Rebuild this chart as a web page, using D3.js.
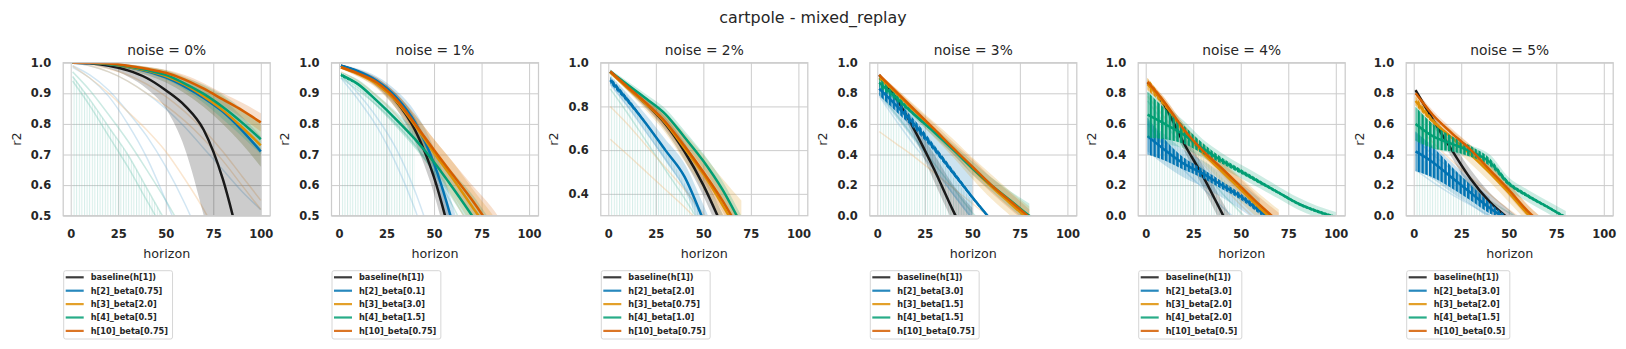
<!DOCTYPE html>
<html>
<head>
<meta charset="utf-8">
<script src="https://cdn.jsdelivr.net/npm/d3@7"></script>
<style>
  body { margin: 0; background: #fff; }
  svg { display: block; font-family: "DejaVu Sans", sans-serif; }
</style>
</head>
<body>
<svg id="chart" width="1626" height="349"></svg>
<script>
var horizons = [1, 10, 20, 30, 40, 50, 60, 70, 80, 90, 100];
var noiseLabels = ['0%', '1%', '2%', '3%', '4%', '5%'];
var yLimits = [[0.5, 1], [0.5, 1], [0.3, 1], [0, 1], [0, 1], [0, 1]];
var yTickValues = [
  [0.5, 0.6, 0.7, 0.8, 0.9, 1.0],
  [0.5, 0.6, 0.7, 0.8, 0.9, 1.0],
  [0.4, 0.6, 0.8, 1.0],
  [0, 0.2, 0.4, 0.6, 0.8, 1.0],
  [0, 0.2, 0.4, 0.6, 0.8, 1.0],
  [0, 0.2, 0.4, 0.6, 0.8, 1.0]
];
var xTickValues = [0, 25, 50, 75, 100];

var legendLabels = [
  ['baseline(h[1])', 'h[2]_beta[0.75]', 'h[3]_beta[2.0]', 'h[4]_beta[0.5]', 'h[10]_beta[0.75]'],
  ['baseline(h[1])', 'h[2]_beta[0.1]', 'h[3]_beta[3.0]', 'h[4]_beta[1.5]', 'h[10]_beta[0.75]'],
  ['baseline(h[1])', 'h[2]_beta[2.0]', 'h[3]_beta[0.75]', 'h[4]_beta[1.0]', 'h[10]_beta[0.75]'],
  ['baseline(h[1])', 'h[2]_beta[3.0]', 'h[3]_beta[1.5]', 'h[4]_beta[1.5]', 'h[10]_beta[0.75]'],
  ['baseline(h[1])', 'h[2]_beta[3.0]', 'h[3]_beta[2.0]', 'h[4]_beta[2.0]', 'h[10]_beta[0.5]'],
  ['baseline(h[1])', 'h[2]_beta[3.0]', 'h[3]_beta[2.0]', 'h[4]_beta[1.5]', 'h[10]_beta[0.5]']
];

// mean r2 and confidence band, one list per noise level
var baselineMean = [
  [1.0, 0.998, 0.99, 0.975, 0.95, 0.91, 0.86, 0.78, 0.62, 0.38, 0.10],
  [0.99, 0.97, 0.935, 0.875, 0.78, 0.625, 0.40, 0.15],
  [0.96, 0.89, 0.81, 0.72, 0.595, 0.44, 0.25, 0.05],
  [0.92, 0.765, 0.55, 0.30, 0.03, -0.22],
  [0.87, 0.72, 0.475, 0.26, 0.02, -0.22],
  [0.82, 0.63, 0.43, 0.24, 0.09, -0.02, -0.12]
];
var baselineLo = [
  [1.0, 0.995, 0.98, 0.955, 0.915, 0.85, 0.72, 0.50, 0.25, 0.0, -0.3],
  [0.985, 0.962, 0.92, 0.85, 0.74, 0.57, 0.33, 0.05],
  [0.955, 0.875, 0.79, 0.69, 0.555, 0.39, 0.19, -0.02],
  [0.91, 0.74, 0.50, 0.22, -0.05, -0.3],
  [0.86, 0.69, 0.43, 0.19, -0.06, -0.3],
  [0.81, 0.60, 0.38, 0.18, 0.03, -0.08, -0.18]
];
var baselineHi = [
  [1.0, 1.0, 0.997, 0.99, 0.978, 0.958, 0.93, 0.89, 0.84, 0.78, 0.72],
  [0.995, 0.978, 0.95, 0.90, 0.82, 0.68, 0.47, 0.25],
  [0.965, 0.905, 0.83, 0.75, 0.635, 0.49, 0.31, 0.12],
  [0.93, 0.78, 0.60, 0.40, 0.20, 0.05, -0.1],
  [0.88, 0.75, 0.53, 0.33, 0.10, -0.12],
  [0.83, 0.66, 0.48, 0.30, 0.15, 0.04, -0.06]
];

var h2Mean = [
  [1.0, 0.999, 0.995, 0.986, 0.972, 0.952, 0.922, 0.885, 0.84, 0.78, 0.71],
  [0.99, 0.972, 0.94, 0.888, 0.805, 0.67, 0.47, 0.22],
  [0.92, 0.83, 0.72, 0.60, 0.48, 0.28, 0.06],
  [0.83, 0.72, 0.59, 0.44, 0.28, 0.12, -0.03],
  [0.52, 0.43, 0.34, 0.275, 0.20, 0.125, 0.03, -0.06],
  [0.42, 0.35, 0.25, 0.15, 0.05, -0.03]
];
var h2Lo = [
  [1.0, 0.998, 0.991, 0.978, 0.96, 0.935, 0.9, 0.855, 0.8, 0.735, 0.66],
  [0.985, 0.963, 0.925, 0.865, 0.77, 0.62, 0.41, 0.15],
  [0.90, 0.80, 0.68, 0.55, 0.42, 0.21, -0.02],
  [0.78, 0.64, 0.48, 0.31, 0.13, -0.03],
  [0.42, 0.33, 0.25, 0.19, 0.12, 0.04, -0.05],
  [0.30, 0.24, 0.15, 0.07, -0.02]
];
var h2Hi = [
  [1.0, 1.0, 0.998, 0.993, 0.983, 0.968, 0.944, 0.915, 0.88, 0.825, 0.76],
  [0.995, 0.98, 0.955, 0.91, 0.84, 0.72, 0.53, 0.29],
  [0.94, 0.86, 0.76, 0.65, 0.54, 0.35, 0.14],
  [0.88, 0.80, 0.70, 0.57, 0.43, 0.27, 0.12, -0.02],
  [0.62, 0.53, 0.43, 0.36, 0.28, 0.21, 0.11, 0.02, -0.05],
  [0.54, 0.46, 0.35, 0.23, 0.12, 0.04, -0.03]
];
// half-height of the step-to-step zigzag
var h2Jitter = [
  null,
  null,
  [0.015, 0.012, 0.006, 0.004, 0.003, 0.003, 0.003],
  [0.045, 0.04, 0.03, 0.022, 0.018, 0.012, 0.01],
  [0.12, 0.07, 0.04, 0.03, 0.025, 0.02, 0.02, 0.02],
  [0.13, 0.1, 0.07, 0.05, 0.035, 0.02]
];

var h3Mean = [
  [1.0, 1.0, 0.996, 0.987, 0.974, 0.956, 0.928, 0.89, 0.845, 0.79, 0.73],
  [0.985, 0.963, 0.93, 0.875, 0.795, 0.705, 0.62, 0.53, 0.44, 0.34, 0.23],
  [0.955, 0.885, 0.81, 0.725, 0.61, 0.49, 0.35, 0.20],
  [0.90, 0.80, 0.68, 0.56, 0.44, 0.31, 0.19, 0.08, -0.03],
  [0.86, 0.73, 0.55, 0.41, 0.29, 0.17, 0.05, -0.06],
  [0.75, 0.62, 0.51, 0.40, 0.28, 0.15, 0.01, -0.1]
];
var h3Lo = [
  [1.0, 0.999, 0.99, 0.978, 0.96, 0.936, 0.9, 0.855, 0.80, 0.735, 0.66],
  [0.98, 0.955, 0.915, 0.85, 0.76, 0.66, 0.565, 0.47, 0.37, 0.26, 0.14],
  [0.95, 0.87, 0.78, 0.68, 0.55, 0.42, 0.26, 0.10],
  [0.88, 0.77, 0.64, 0.51, 0.38, 0.24, 0.11, 0.0, -0.1],
  [0.83, 0.69, 0.50, 0.35, 0.22, 0.09, -0.03, -0.15],
  [0.72, 0.58, 0.46, 0.34, 0.22, 0.09, -0.04, -0.15]
];
var h3Hi = [
  [1.0, 1.0, 0.999, 0.995, 0.987, 0.975, 0.955, 0.925, 0.89, 0.845, 0.80],
  [0.99, 0.972, 0.945, 0.90, 0.83, 0.75, 0.675, 0.59, 0.51, 0.42, 0.32],
  [0.96, 0.90, 0.84, 0.77, 0.68, 0.58, 0.47, 0.37, 0.25, 0.1],
  [0.92, 0.83, 0.72, 0.61, 0.50, 0.38, 0.27, 0.16, 0.06, -0.02, -0.1],
  [0.89, 0.77, 0.60, 0.47, 0.36, 0.25, 0.14, 0.04, -0.05],
  [0.78, 0.66, 0.56, 0.46, 0.34, 0.21, 0.07, -0.04]
];
var h3Jitter = [null, null, null, null, [0.04, 0.02, 0.01], [0.03, 0.015, 0.008]];

var h4Mean = [
  [1.0, 1.0, 0.996, 0.988, 0.976, 0.96, 0.932, 0.898, 0.855, 0.805, 0.75],
  [0.96, 0.93, 0.875, 0.815, 0.75, 0.675, 0.59, 0.50, 0.40, 0.29, 0.17],
  [0.96, 0.90, 0.835, 0.765, 0.66, 0.55, 0.42, 0.26, 0.10],
  [0.87, 0.77, 0.655, 0.545, 0.43, 0.31, 0.20, 0.10, 0.0, -0.08],
  [0.66, 0.60, 0.53, 0.44, 0.36, 0.29, 0.22, 0.15, 0.08, 0.03, -0.01],
  [0.60, 0.52, 0.47, 0.42, 0.35, 0.21, 0.13, 0.06, -0.01, -0.06]
];
var h4Lo = [
  [1.0, 1.0, 0.993, 0.982, 0.966, 0.945, 0.912, 0.868, 0.815, 0.76, 0.70],
  [0.95, 0.915, 0.855, 0.79, 0.72, 0.64, 0.55, 0.455, 0.35, 0.24, 0.12],
  [0.95, 0.885, 0.815, 0.74, 0.63, 0.515, 0.38, 0.22, 0.06],
  [0.85, 0.75, 0.63, 0.515, 0.40, 0.27, 0.16, 0.05, -0.05],
  [0.50, 0.47, 0.44, 0.38, 0.31, 0.245, 0.18, 0.11, 0.04, -0.01, -0.05],
  [0.50, 0.44, 0.41, 0.38, 0.31, 0.17, 0.09, 0.02, -0.05]
];
var h4Hi = [
  [1.0, 1.0, 0.999, 0.994, 0.986, 0.975, 0.952, 0.928, 0.895, 0.85, 0.80],
  [0.97, 0.945, 0.895, 0.84, 0.78, 0.715, 0.64, 0.57, 0.48, 0.38, 0.27],
  [0.97, 0.915, 0.855, 0.79, 0.69, 0.585, 0.46, 0.30, 0.14],
  [0.89, 0.79, 0.68, 0.575, 0.465, 0.355, 0.25, 0.16, 0.08, 0.03, -0.02],
  [0.82, 0.73, 0.62, 0.50, 0.41, 0.335, 0.265, 0.19, 0.12, 0.065, 0.025],
  [0.72, 0.60, 0.52, 0.46, 0.40, 0.25, 0.17, 0.10, 0.03, -0.02]
];
var h4Jitter = [
  null,
  [0.006, 0.003],
  null,
  [0.03, 0.02, 0.01, 0.008, 0.005],
  [0.15, 0.1, 0.06, 0.035, 0.02, 0.015, 0.012, 0.01, 0.01, 0.01, 0.01],
  [0.11, 0.08, 0.05, 0.035, 0.025, 0.015, 0.012, 0.01, 0.01]
];

var h10Mean = [
  [1.0, 1.0, 0.997, 0.99, 0.98, 0.967, 0.945, 0.915, 0.88, 0.845, 0.805],
  [0.985, 0.965, 0.935, 0.88, 0.80, 0.715, 0.633, 0.551, 0.46, 0.36, 0.26],
  [0.96, 0.89, 0.815, 0.73, 0.62, 0.50, 0.37, 0.22],
  [0.92, 0.81, 0.687, 0.565, 0.44, 0.32, 0.20, 0.095, -0.01],
  [0.875, 0.74, 0.565, 0.425, 0.31, 0.19, 0.07, -0.04],
  [0.80, 0.66, 0.54, 0.43, 0.30, 0.17, 0.03, -0.08]
];
var h10Lo = [
  [1.0, 1.0, 0.995, 0.986, 0.973, 0.957, 0.93, 0.897, 0.86, 0.82, 0.775],
  [0.98, 0.955, 0.92, 0.86, 0.77, 0.68, 0.59, 0.50, 0.40, 0.29, 0.18],
  [0.955, 0.875, 0.795, 0.70, 0.585, 0.46, 0.32, 0.16],
  [0.91, 0.79, 0.66, 0.53, 0.40, 0.27, 0.15, 0.04, -0.06],
  [0.86, 0.71, 0.53, 0.39, 0.27, 0.14, 0.02, -0.1],
  [0.78, 0.63, 0.51, 0.40, 0.27, 0.13, -0.01, -0.12]
];
var h10Hi = [
  [1.0, 1.0, 0.999, 0.994, 0.987, 0.977, 0.96, 0.933, 0.90, 0.87, 0.835],
  [0.99, 0.975, 0.95, 0.90, 0.83, 0.75, 0.675, 0.60, 0.53, 0.44, 0.35],
  [0.965, 0.905, 0.835, 0.76, 0.655, 0.54, 0.42, 0.28, 0.12],
  [0.93, 0.83, 0.71, 0.60, 0.48, 0.37, 0.25, 0.15, 0.04, -0.05],
  [0.89, 0.77, 0.60, 0.46, 0.35, 0.24, 0.12, 0.02, -0.08],
  [0.82, 0.69, 0.57, 0.46, 0.33, 0.21, 0.07, -0.04]
];

// top of the pale comb of other beta runs that drop to the floor every other step
var combTop = [
  [0.96, 0.88, 0.79, 0.70, 0.59, 0.48],
  [0.95, 0.92, 0.87, 0.82, 0.77],
  [0.95, 0.85, 0.72, 0.60, 0.45, 0.3],
  [0.85, 0.70, 0.55, 0.42, 0.25, 0.1],
  [0.80, 0.65, 0.50, 0.38, 0.25, 0.12],
  [0.40, 0.32, 0.24, 0.15, 0.06]
];

// other beta runs, drawn pale
var faintTeal = [
  [[0.955, 0.88, 0.79, 0.70, 0.59, 0.48, 0.36], [0.97, 0.91, 0.83, 0.745, 0.65, 0.55, 0.44, 0.32], [0.94, 0.86, 0.76, 0.66, 0.55, 0.44]],
  [[0.95, 0.91, 0.86, 0.80, 0.73, 0.64, 0.53, 0.4]],
  [[0.88, 0.77, 0.64, 0.51, 0.38, 0.24]],
  [[0.80, 0.66, 0.50, 0.34, 0.18, 0.02, -0.1]],
  [[0.75, 0.6, 0.45, 0.3, 0.15, 0.02, -0.1]],
  [[0.5, 0.4, 0.3, 0.2, 0.1, 0.02, -0.05]]
];
var faintBlue = [
  [[0.99, 0.96, 0.91, 0.84, 0.76, 0.66, 0.54, 0.40], [0.985, 0.95, 0.89, 0.80, 0.69, 0.55, 0.40], [1.0, 0.99, 0.97, 0.94, 0.90, 0.85, 0.79, 0.72, 0.65, 0.58, 0.52]],
  [[0.96, 0.90, 0.82, 0.72, 0.58, 0.40], [0.95, 0.88, 0.79, 0.67, 0.52, 0.33]],
  [[0.90, 0.80, 0.68, 0.56, 0.43, 0.29]],
  [[0.78, 0.62, 0.45, 0.30, 0.14, -0.02]],
  [[0.6, 0.45, 0.3, 0.18, 0.06, -0.05]],
  [[0.3, 0.22, 0.14, 0.07, 0.0, -0.05]]
];
var faintOrange = [
  [[0.99, 0.95, 0.90, 0.84, 0.78, 0.71, 0.62, 0.52, 0.40], [1.0, 0.99, 0.97, 0.94, 0.90, 0.86, 0.81, 0.75, 0.68, 0.60, 0.52], [1.0, 0.995, 0.98, 0.96, 0.93, 0.89, 0.84, 0.78, 0.71, 0.63, 0.55]],
  [[0.97, 0.94, 0.89, 0.83, 0.75, 0.66, 0.56, 0.45]],
  [[0.80, 0.72, 0.62, 0.52, 0.42, 0.31, 0.2], [0.65, 0.58, 0.50, 0.42, 0.34, 0.25]],
  [[0.55, 0.47, 0.38, 0.28, 0.18, 0.08, -0.02]],
  [[0.78, 0.64, 0.48, 0.34, 0.2, 0.07, -0.05]],
  [[0.6, 0.48, 0.36, 0.25, 0.14, 0.04, -0.05]]
];

var series = [
  {key: 'base', color: '#1a1a1a', band: '#000000', mean: baselineMean, lo: baselineLo, hi: baselineHi, jit: null},
  {key: 'h2', color: '#0173b2', band: '#0173b2', mean: h2Mean, lo: h2Lo, hi: h2Hi, jit: h2Jitter},
  {key: 'h3', color: '#de8f05', band: '#de8f05', mean: h3Mean, lo: h3Lo, hi: h3Hi, jit: h3Jitter},
  {key: 'h4', color: '#029e73', band: '#029e73', mean: h4Mean, lo: h4Lo, hi: h4Hi, jit: h4Jitter},
  {key: 'h10', color: '#d55e00', band: '#d55e00', mean: h10Mean, lo: h10Lo, hi: h10Hi, jit: null}
];

var axLeft = [63.2, 331.5, 600.8, 869.8, 1138.2, 1406.2];
var axW = 207, axTop = 62.7, axH = 153;
var textColor = '#262626', gridColor = '#cccccc';

var svg = d3.select('#chart');
var defs = svg.append('defs');

function stripePattern(id, color, opacity, period, barW) {
  var p = defs.append('pattern')
    .attr('id', id)
    .attr('patternUnits', 'userSpaceOnUse')
    .attr('width', period)
    .attr('height', 8);
  p.append('rect')
    .attr('width', barW)
    .attr('height', 8)
    .attr('fill', color)
    .attr('fill-opacity', opacity);
}

series.forEach(function(s) { stripePattern('zig-' + s.key, s.color, 1, 3.8, 2.6); });
stripePattern('comb', '#74c6b3', 0.3, 2.6, 1);

function points(arr) {
  return arr.map(function(v, k) { return [horizons[k], v]; });
}

svg.append('text')
  .attr('x', 813).attr('y', 23)
  .attr('text-anchor', 'middle')
  .attr('font-size', 15.9)
  .attr('fill', textColor)
  .text('cartpole - mixed_replay');

noiseLabels.forEach(function(noise, i) {
  var x = d3.scaleLinear().domain([-3.95, 104.95]).range([0, axW]);
  var y = d3.scaleLinear().domain(yLimits[i]).range([axH, 0]);

  var line = d3.line()
    .x(function(d) { return x(d[0]); })
    .y(function(d) { return y(d[1]); })
    .curve(d3.curveMonotoneX);
  var area = d3.area()
    .x(function(d) { return x(d[0]); })
    .y0(function(d) { return y(d[1]); })
    .y1(function(d) { return y(d[2]); })
    .curve(d3.curveMonotoneX);

  var g = svg.append('g').attr('transform', 'translate(' + axLeft[i] + ',' + axTop + ')');

  defs.append('clipPath').attr('id', 'clip' + i)
    .append('rect').attr('width', axW).attr('height', axH);

  // grid
  g.append('g')
    .call(d3.axisBottom(x).tickValues(xTickValues).tickSize(axH).tickFormat(''))
    .call(function(a) { a.select('.domain').remove(); })
    .selectAll('line').attr('stroke', gridColor).attr('stroke-width', 1);
  g.append('g')
    .call(d3.axisLeft(y).tickValues(yTickValues[i]).tickSize(-axW).tickFormat(''))
    .call(function(a) { a.select('.domain').remove(); })
    .selectAll('line').attr('stroke', gridColor).attr('stroke-width', 1);

  var plot = g.append('g').attr('clip-path', 'url(#clip' + i + ')');

  // pale comb down to the floor
  var comb = combTop[i].map(function(v, k) { return [horizons[k], yLimits[i][0] - 0.2, v]; });
  plot.append('path').attr('d', area(comb)).attr('fill', 'url(#comb)');

  // pale runs
  [[faintTeal, '#6cc2ae', 0.35], [faintBlue, '#7fb8dc', 0.35], [faintOrange, '#f0b878', 0.35]].forEach(function(f) {
    f[0][i].forEach(function(arr) {
      plot.append('path').attr('d', line(points(arr)))
        .attr('fill', 'none').attr('stroke', f[1])
        .attr('stroke-opacity', f[2]).attr('stroke-width', 1.5);
    });
  });

  // confidence bands
  series.forEach(function(s) {
    var lo = s.lo[i], hi = s.hi[i];
    var n = Math.min(lo.length, hi.length);
    var d = [];
    for (var k = 0; k < n; k++) d.push([horizons[k], lo[k], hi[k]]);
    plot.append('path').attr('d', area(d))
      .attr('fill', s.band).attr('fill-opacity', 0.2);
  });

  // mean lines, with the zigzag drawn as a striped strip
  series.forEach(function(s) {
    var m = s.mean[i];
    if (s.jit && s.jit[i]) {
      var j = s.jit[i];
      var z = j.map(function(a, k) { return [horizons[k], m[k] - a, m[k] + a]; });
      plot.append('path').attr('d', area(z)).attr('fill', 'url(#zig-' + s.key + ')');
    }
    plot.append('path').attr('d', line(points(m)))
      .attr('fill', 'none').attr('stroke', s.color)
      .attr('stroke-width', 2.5).attr('stroke-linejoin', 'round');
  });

  // frame
  g.append('rect').attr('width', axW).attr('height', axH)
    .attr('fill', 'none').attr('stroke', gridColor).attr('stroke-width', 1.25);

  // tick labels
  var xa = g.append('g').attr('transform', 'translate(0,' + axH + ')')
    .call(d3.axisBottom(x).tickValues(xTickValues).tickSize(0).tickPadding(14.4));
  var ya = g.append('g')
    .call(d3.axisLeft(y).tickValues(yTickValues[i]).tickSize(0).tickPadding(12).tickFormat(d3.format('.1f')));
  [xa, ya].forEach(function(a) {
    a.select('.domain').remove();
    a.selectAll('text')
      .attr('font-family', '"DejaVu Sans", sans-serif')
      .attr('font-size', 11.5).attr('font-weight', 'bold').attr('fill', textColor);
  });

  g.append('text')
    .attr('x', axW / 2).attr('y', 54.5 - axTop)
    .attr('text-anchor', 'middle').attr('font-size', 13.8).attr('fill', textColor)
    .text('noise = ' + noise);
  g.append('text')
    .attr('x', axW / 2).attr('y', 258 - axTop)
    .attr('text-anchor', 'middle').attr('font-size', 12.7).attr('fill', textColor)
    .text('horizon');
  g.append('text')
    .attr('transform', 'translate(-42.7,' + (axH / 2) + ') rotate(-90)')
    .attr('text-anchor', 'middle').attr('font-size', 12.7).attr('fill', textColor)
    .text('r2');

  // legend below the axes
  var lg = g.append('g').attr('transform', 'translate(0.5,' + (270.7 - axTop) + ')');
  var box = lg.append('rect')
    .attr('rx', 2).attr('ry', 2)
    .attr('fill', '#fff').attr('fill-opacity', 0.8)
    .attr('stroke', '#d6d6d6').attr('stroke-width', 1);
  var maxW = 0;
  legendLabels[i].forEach(function(lab, k) {
    var cy = 6.6 + k * 13.4;
    lg.append('line')
      .attr('x1', 2).attr('x2', 20).attr('y1', cy).attr('y2', cy)
      .attr('stroke', series[k].color).attr('stroke-opacity', 0.85).attr('stroke-width', 2.2);
    var t = lg.append('text')
      .attr('x', 27).attr('y', cy + 3)
      .attr('font-size', 8.2).attr('font-weight', 'bold').attr('fill', textColor)
      .text(lab);
    maxW = Math.max(maxW, t.node().getComputedTextLength());
  });
  box.attr('width', 27 + maxW + 4.5).attr('height', 68.3);
});
</script>
</body>
</html>
